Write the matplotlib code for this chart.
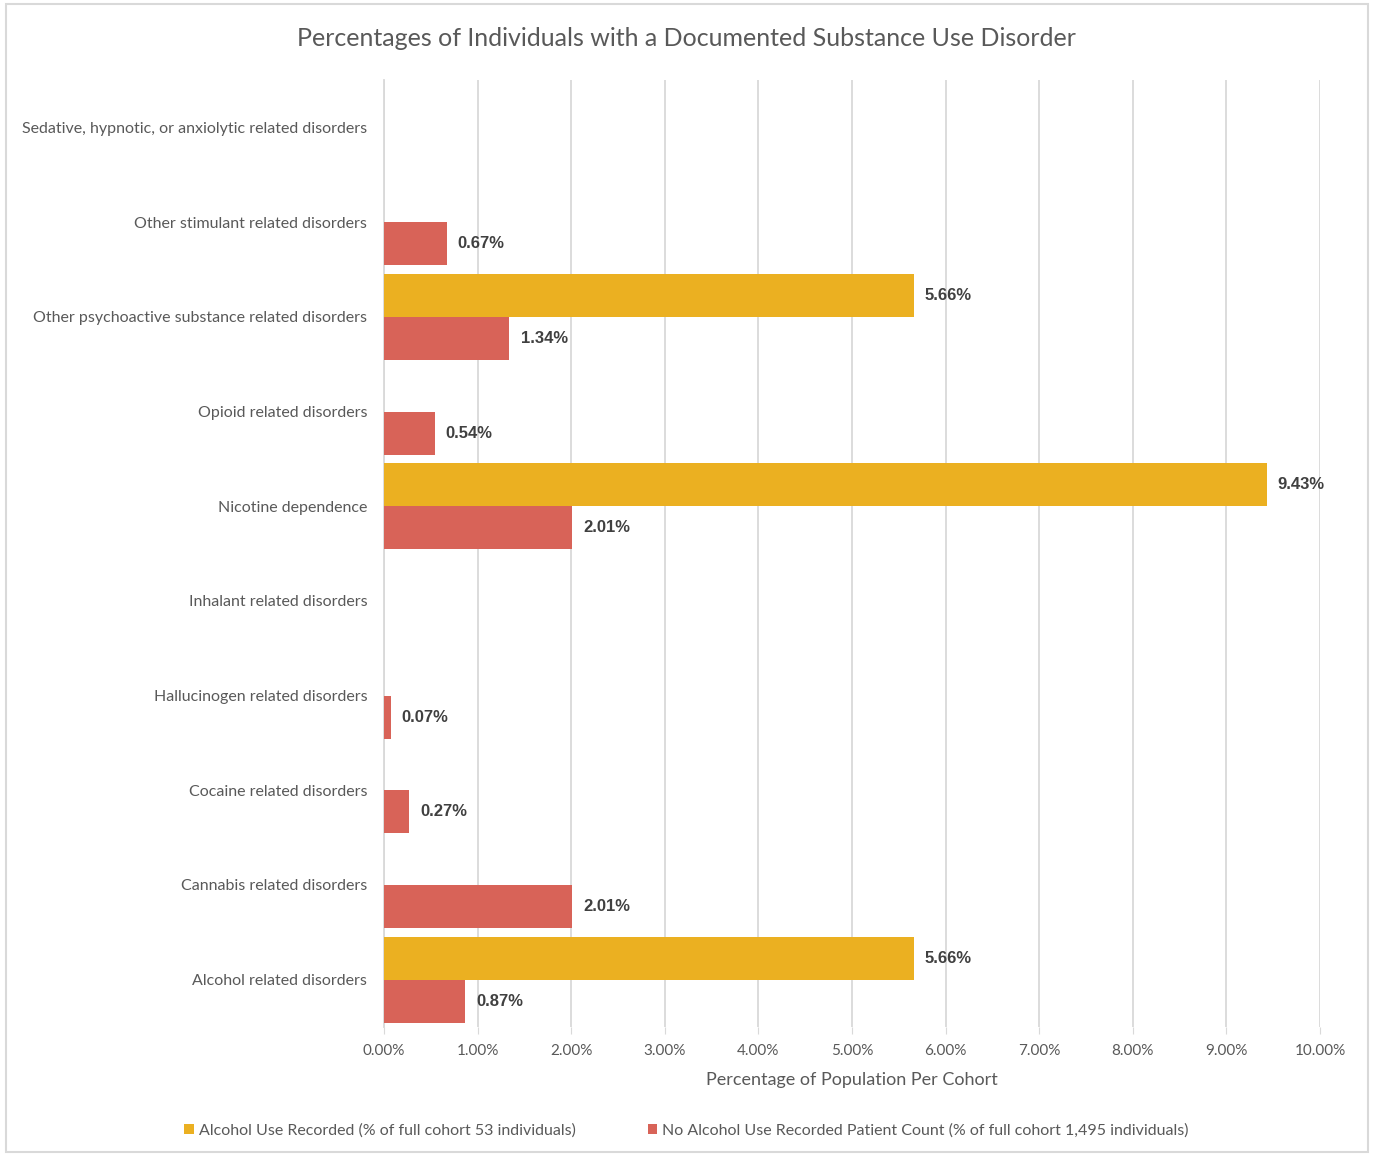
import numpy as np
import matplotlib.pyplot as plt
from matplotlib.patches import Rectangle

categories = [
    "Alcohol related disorders",
    "Cannabis related disorders",
    "Cocaine related disorders",
    "Hallucinogen related disorders",
    "Inhalant related disorders",
    "Nicotine dependence",
    "Opioid related disorders",
    "Other psychoactive substance related disorders",
    "Other stimulant related disorders",
    "Sedative, hypnotic, or anxiolytic related disorders",
]
alcohol_use = [5.66, 0, 0, 0, 0, 9.43, 0, 5.66, 0, 0]
no_alcohol_use = [0.87, 2.01, 0.27, 0.07, 0, 2.01, 0.54, 1.34, 0.67, 0]
series_names = [
    "Alcohol Use Recorded (% of full cohort 53 individuals)",
    "No Alcohol Use Recorded Patient Count (% of full cohort 1,495 individuals)",
]
xticks = np.arange(0, 11, 1)

YELLOW = "#EBB021"
RED = "#D86358"
GRID = "#D9D9D9"
TXT = "#595959"
FONT = "Lato"

plt.rcParams['font.family'] = [FONT, 'DejaVu Sans']

fig = plt.figure(figsize=(13.73, 11.56), dpi=100)
ax = fig.add_axes([0.2797, 0.1116, 0.9614 - 0.2797, 0.9307 - 0.1116])

y = np.arange(len(categories))
h = 0.455
b1 = ax.barh(y + h / 2, alcohol_use, height=h, color=YELLOW, label=series_names[0], zorder=3)
b2 = ax.barh(y - h / 2, no_alcohol_use, height=h, color=RED, label=series_names[1], zorder=3)

for bars, vals in ((b1, alcohol_use), (b2, no_alcohol_use)):
    for bar, v in zip(bars, vals):
        if v > 0:
            ax.annotate(f"{v:.2f}%", (v, bar.get_y() + bar.get_height() / 2),
                        xytext=(8, 0), textcoords="offset points", va="center",
                        ha="left", fontsize=12, fontweight="bold",
                        color="#404040", family="Liberation Sans", zorder=4)

ax.set_xlim(0, 10)
ax.set_ylim(-0.5, len(categories) - 0.5)
ax.set_xticks(xticks)
ax.set_xticklabels([f"{t:.2f}%" for t in xticks], fontsize=11, color=TXT)
ax.set_yticks(y)
ax.set_yticklabels(categories, fontsize=11.5, color=TXT)
ax.tick_params(axis="y", length=0, pad=12)
ax.tick_params(axis="x", length=5, color=GRID, pad=7)
ax.grid(axis="x", color=GRID, linewidth=1.3, zorder=0)
for s in ("top", "right", "bottom"):
    ax.spines[s].set_visible(False)
ax.spines["left"].set_color(GRID)
ax.spines["left"].set_linewidth(1.3)
ax.set_xlabel("Percentage of Population Per Cohort", fontsize=13, color=TXT, labelpad=10)

fig.suptitle("Percentages of Individuals with a Documented Substance Use Disorder",
             y=0.977, fontsize=18, color=TXT)

fig.legend(handles=[b1, b2], loc="center", bbox_to_anchor=(0.5, 0.022), ncol=2,
           frameon=False, fontsize=11.5, handlelength=0.6, handleheight=0.6,
           handletextpad=0.3, columnspacing=4.5, labelcolor=TXT)

fig.patches.append(Rectangle((0.0044, 0.0035), 0.9920, 0.9930, transform=fig.transFigure,
                             fill=False, edgecolor=GRID, linewidth=1.5))

fig.savefig("out.png", dpi=100)
